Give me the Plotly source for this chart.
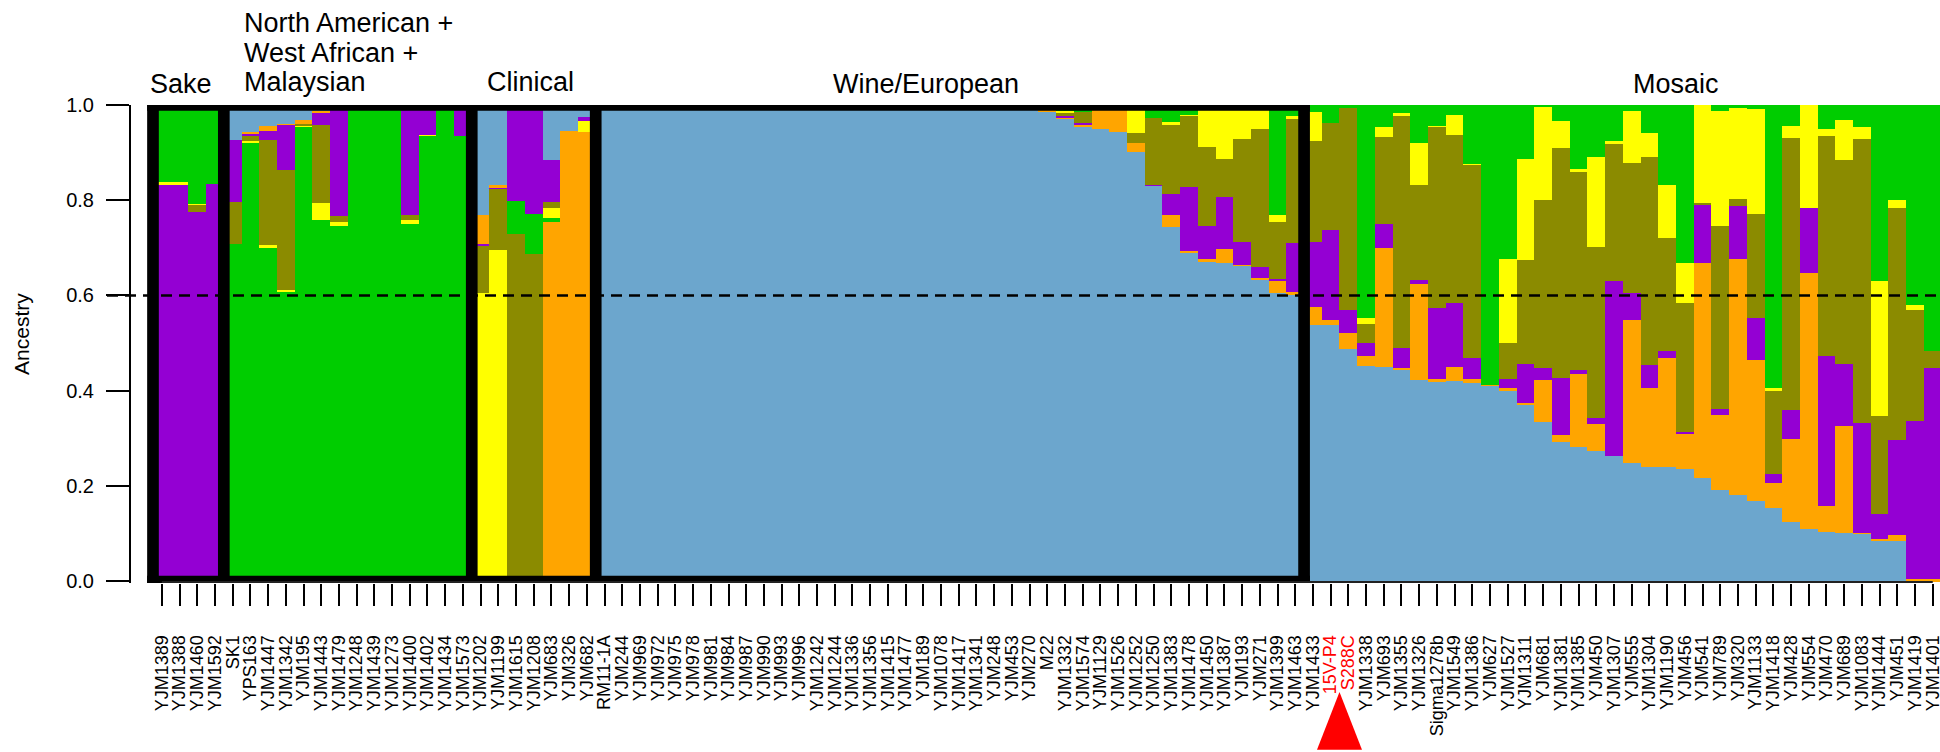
import plotly.graph_objects as go

strains = ["YJM1389", "YJM1388", "YJM1460", "YJM1592",
           "SK1", "YPS163", "YJM1447", "YJM1342", "YJM195", "YJM1443", "YJM1479", "YJM1248",
           "YJM1439", "YJM1273", "YJM1400", "YJM1402", "YJM1434", "YJM1573",
           "YJM1202", "YJM1199", "YJM1615", "YJM1208", "YJM683", "YJM326", "YJM682",
           "RM11-1A", "YJM244", "YJM969", "YJM972", "YJM975", "YJM978", "YJM981", "YJM984",
           "YJM987", "YJM990", "YJM993", "YJM996", "YJM1242", "YJM1244", "YJM1336", "YJM1356",
           "YJM1415", "YJM1477", "YJM189", "YJM1078", "YJM1417", "YJM1341", "YJM248", "YJM453",
           "YJM270", "M22", "YJM1332", "YJM1574", "YJM1129", "YJM1526", "YJM1252", "YJM1250",
           "YJM1383", "YJM1478", "YJM1450", "YJM1387", "YJM193", "YJM271", "YJM1399", "YJM1463",
           "YJM1433",
           "15V-P4", "S288C", "YJM1338", "YJM693", "YJM1355", "YJM1326", "Sigma1278b", "YJM1549",
           "YJM1386", "YJM627", "YJM1527", "YJM1311", "YJM681", "YJM1381", "YJM1385", "YJM450",
           "YJM1307", "YJM555", "YJM1304", "YJM1190", "YJM456", "YJM541", "YJM789", "YJM320",
           "YJM1133", "YJM1418", "YJM428", "YJM554", "YJM470", "YJM689", "YJM1083", "YJM1444",
           "YJM451", "YJM1419", "YJM1401"]

# ancestry proportions per strain (same order as strains)
blue = ([0, 0, 0, 0] +
        [.074, .057, .044, .040, .032, .013, 0, 0, 0, 0, 0, 0, 0, 0] +
        [.231, .169, 0, 0, .116, .055, .025] +
        [1] * 24 +
        [.996, .985, .971, .954, .950, .943, .901, .830, .744, .691, .672, .668, .662, .634, .605, .603] +
        [.538, .538, .487, .452, .450, .445, .422, .420, .420, .416, .410, .399, .370, .334, .292, .282,
         .273, .263, .248, .240, .240, .235, .216, .191, .181, .168, .153, .124, .109, .103, .101, .099,
         .086, .084, 0, 0])
orange = ([0, 0, 0, 0] +
          [0, .002, .011, .002, .008, .002, 0, 0, 0, 0, 0, 0, 0, 0] +
          [.061, .004, .010, 0, .754, .945, .943] +
          [0] * 24 +
          [.004, .005, .002, .004, .050, .057, .019, .001, .025, .002, .004, .029, .002, .002, .027, .004] +
          [.038, .010, .034, .021, .250, .002, .202, .004, .030, .008, .002, .006, .004, .088, .015, .153,
           .057, 0, .300, .165, .228, .074, .452, .158, .495, .296, .053, .174, .538, .055, .225, .002,
           .002, .013, .005, .004])
purple = ([.834, .834, .776, .834] +
          [.130, .006, .019, .095, 0, .027, .233, 0, 0, 0, .231, .062, 0, .065] +
          [.004, .003, .192, .229, .088, 0, .009] +
          [0] * 24 +
          [0, 0, .004, .004, 0, 0, 0, .001, .044, .135, .070, .110, .048, .024, .002, .103] +
          [.136, .189, .048, .027, .050, .042, .008, .150, .134, .044, 0, .019, .082, .025, .119, .008,
           .012, .367, .057, .049, .015, .004, .124, .012, .112, .089, .019, .061, .137, .315, .130, .231,
           .053, .199, .331, .443])
olive = ([0, 0, .014, 0] +
         [.087, .011, .220, .252, .004, .164, .013, 0, 0, 0, .011, 0, 0, 0] +
         [.099, .129, .729, .687, .012, 0, 0] +
         [0] * 24 +
         [0, .010, .008, .023, 0, 0, .021, .141, .147, .149, .166, .080, .217, .290, .120, .261] +
         [.212, .225, .425, .040, .183, .488, .200, .380, .353, .406, 0, .076, .218, .353, .484, .416,
          .360, .288, .273, .437, .238, .271, .002, .385, .015, .218, .176, .572, 0, .462, .428, .597,
          .206, .488, .233, .036])
yellow = ([.004, .004, .003, 0] +
          [0, .002, .006, .002, .002, .036, .008, 0, 0, 0, .008, .003, 0, 0] +
          [.605, .695, 0, 0, .021, 0, .023] +
          [0] * 24 +
          [0, 0, .003, 0, 0, 0, .059, 0, .004, .002, .088, .113, .071, .050, .015, .006] +
          [.061, 0, 0, .013, .021, .006, .088, .002, .042, .002, 0, .176, .213, .196, .056, .007,
           .189, .006, .109, .050, .111, .084, .206, .241, .191, .221, .004, .025, .216, .015, .084, .025,
           .283, .016, .011, 0])
green = ([.162, .162, .207, .166] +
         [.709, .922, .700, .609, .954, .758, .746, 1, 1, 1, .750, .935, 1, .935] +
         [0, 0, .069, .084, .009, 0, 0] +
         [0] * 24 +
         [0, 0, .012, .015, 0, 0, 0, .027, .036, .021, 0, 0, 0, 0, .231, .023] +
         [.015, .038, .006, .447, .046, .017, .080, .044, .021, .124, .588, .324, .113, .004, .034, .134,
          .109, .076, .013, .059, .168, .332, 0, .013, .006, .008, .595, .044, 0, .050, .032, .046,
          .370, .200, .420, .517])

# stacking order bottom -> top (B blue, O orange, P purple, L olive, Y yellow, G green)
order_sake = "PLYGBO"
order_na = "GYLPOB"
order_clinical = ["YLPOBG", "YLPOBG", "LGPOBY", "LGPOBY", "OGYLPB", "OBGYLP", "OYPBGL"]
order_rest = "BOPLYG"
stack_order = [order_sake] * 4 + [order_na] * 14 + order_clinical + [order_rest] * 76

# groups
box_first = [0, 4, 18, 25]
box_last = [3, 17, 24, 64]
highlight = ["15V-P4", "S288C"]
titles = ["Sake", "North American +", "West African +", "Malaysian", "Clinical", "Wine/European", "Mosaic"]
title_x = [-0.78, 4.55, 4.55, 4.55, 20.8, 43.15, 85.5]
title_anchor = ["left", "left", "left", "left", "center", "center", "center"]
title_shift = [4, 65, 35, 6, 6, 4, 4]

comp = {"B": blue, "O": orange, "P": purple, "L": olive, "Y": yellow, "G": green}
colors = {"B": "#6CA6CD", "O": "#FFA500", "P": "#9400D3", "L": "#8B8B00", "Y": "#FFFF00", "G": "#00CD00"}

FONT = "Liberation Sans, Arial, Helvetica, sans-serif"
n = len(strains)
xs = list(range(n))

fig = go.Figure()
for k in range(6):
    vals = [comp[stack_order[i][k]][i] for i in xs]
    cols = [colors[stack_order[i][k]] for i in xs]
    fig.add_trace(go.Bar(x=xs, y=vals, marker=dict(color=cols, line=dict(width=0)),
                         width=1.0, showlegend=False, hoverinfo="skip"))

ticktext = [f"<span style='color:#FF0000'>{s}</span>" if s in highlight else s for s in strains]

XMIN, XMAX = -3.097, 100.41
YMIN = -0.004

shapes = []
bounds = sorted(set([f - 0.5 for f in box_first] + [l + 0.5 for l in box_last]))
hw = 0.33
for b in bounds:
    shapes.append(dict(type="rect", xref="x", yref="y", x0=b - hw, x1=b + hw, y0=YMIN, y1=1.0,
                       fillcolor="black", line=dict(width=0), layer="above"))
left = min(bounds) - hw
right = max(bounds) + hw
shapes.append(dict(type="rect", xref="x", yref="y", x0=left, x1=right, y0=0.988, y1=1.0,
                   fillcolor="black", line=dict(width=0), layer="above"))
shapes.append(dict(type="rect", xref="x", yref="y", x0=left, x1=right, y0=YMIN, y1=0.011,
                   fillcolor="black", line=dict(width=0), layer="above"))
# axis line under bars
shapes.append(dict(type="line", xref="x", yref="y", x0=0, x1=n - 1, y0=-0.002, y1=-0.002,
                   line=dict(color="#222222", width=2), layer="above"))
# threshold line
shapes.append(dict(type="line", xref="x", yref="y", x0=XMIN, x1=XMAX, y0=0.6, y1=0.6,
                   line=dict(color="black", width=2.5, dash="11px,7px"), layer="above"))
# red triangle under highlighted strains
hi = [strains.index(s) for s in highlight]
cx = sum(hi) / len(hi)
shapes.append(dict(type="path", xref="x", yref="paper",
                   path=f"M {cx} -0.228 L {cx - 1.27} -0.349 L {cx + 1.27} -0.349 Z",
                   fillcolor="#FF0000", line=dict(width=0)))

annotations = []
for t, x, a, s in zip(titles, title_x, title_anchor, title_shift):
    annotations.append(dict(text=t, xref="x", yref="paper", x=x, y=1.0, xanchor=a, yanchor="bottom",
                            yshift=s, showarrow=False, font=dict(family=FONT, size=27, color="black")))
annotations.append(dict(text="Ancestry", xref="paper", yref="paper", x=22 / 1940, y=0.521,
                        textangle=-90, showarrow=False, xanchor="center", yanchor="middle",
                        font=dict(family=FONT, size=21, color="black")))

fig.update_layout(
    width=1940, height=752,
    margin=dict(l=0, r=0, t=105, b=169, pad=0),
    paper_bgcolor="white", plot_bgcolor="white",
    barmode="stack", bargap=0,
    shapes=shapes, annotations=annotations,
    xaxis=dict(domain=[107 / 1940, 1.0], range=[XMIN, XMAX], tickmode="array", tickvals=xs,
               ticktext=ticktext, tickangle=-90, ticks="outside", ticklen=22, tickwidth=2,
               tickcolor="black", showgrid=False, zeroline=False, showline=False,
               ticklabelstandoff=22, automargin=False, ticklabeloverflow="allow",
               tickfont=dict(family=FONT, size=18, color="black")),
    yaxis=dict(anchor="free", position=130 / 1940, side="left", range=[YMIN, 1.0],
               tickmode="array", tickvals=[0, 0.2, 0.4, 0.6, 0.8, 1.0],
               ticktext=["0.0", "0.2", "0.4", "0.6", "0.8", "1.0"],
               ticks="outside", ticklen=23, tickwidth=2, tickcolor="black",
               showline=True, linewidth=2, linecolor="black", showgrid=False, zeroline=False,
               ticklabelstandoff=8, automargin=False,
               tickfont=dict(family=FONT, size=20, color="black")),
)

fig.write_html("out.html", config={"displayModeBar": False},
               post_script="document.body.style.margin='0px';document.body.style.padding='0px';")
